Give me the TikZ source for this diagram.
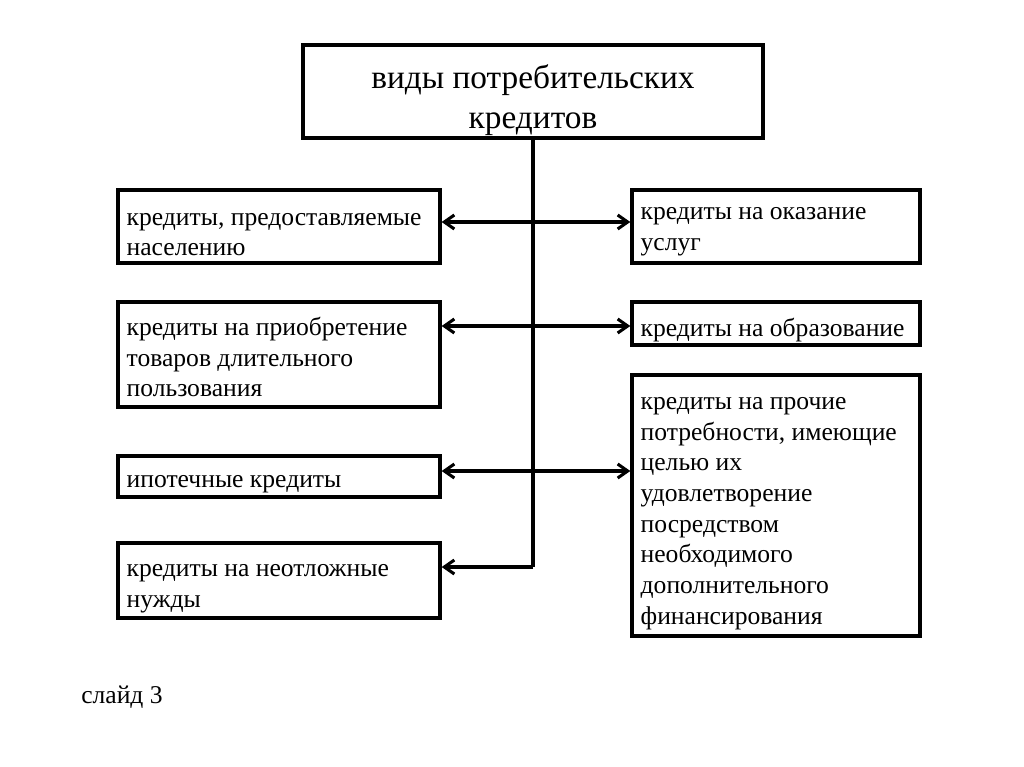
\documentclass[tikz,border=0pt]{standalone}
\usepackage{fontspec}
\setmainfont{Liberation Serif}
\usetikzlibrary{arrows.meta}
\newcommand\boxtext[3][-6pt]{\raisebox{#1}[\height][\depth]{\parbox{#2}{\raggedright #3}}}
\begin{document}
\begin{tikzpicture}[x=0.75pt,y=-0.75pt,
  box/.style={draw,line width=2.5pt,inner xsep=6.5pt,inner ysep=0pt,
    font=\fontsize{19.2}{23}\selectfont},
  lbox/.style={box,minimum width=241.5pt},
  rbox/.style={box,minimum width=216pt},
  conn/.style={line width=2.3pt},
  barb/.tip={Straight Barb[length=7.5pt,width=10.5pt,line width=2.3pt]},
  tip/.style={-barb},
  both/.style={barb-barb}]
\useasboundingbox (0,0) rectangle (1024,767);
\fill[white] (0,0) rectangle (1024,767);
\node[draw,line width=2.5pt,minimum width=345pt,minimum height=69.75pt] (T) at (533,91.5) {};
\node[align=center,inner sep=0pt,font=\fontsize{25}{30}\selectfont] (Tt) at (533,100) {виды потребительских\\кредитов};
\node[lbox,minimum height=54.75pt] (L1) at (279,226.5) {\boxtext{228.5pt}{кредиты, предоставляемые\\населению}};
\node[lbox,minimum height=78.75pt] (L2) at (279,354.5) {\boxtext[-2pt]{228.5pt}{кредиты на приобретение\\товаров длительного\\пользования}};
\node[lbox,minimum height=30.75pt] (L3) at (279,476.5) {\boxtext{228.5pt}{ипотечные кредиты}};
\node[lbox,minimum height=56.25pt] (L4) at (279,580.5) {\boxtext{228.5pt}{кредиты на неотложные\\нужды}};
\node[rbox,minimum height=54.75pt] (R1) at (776,226.5) {\boxtext[-4pt]{203pt}{кредиты на оказание\\услуг}};
\node[rbox,minimum height=32.25pt] (R2) at (776,323.5) {\boxtext[-5pt]{203pt}{кредиты на образование}};
\node[rbox,minimum height=195.75pt] (R3) at (776,505.5) {\boxtext{203pt}{кредиты на прочие\\потребности, имеющие\\целью их\\удовлетворение\\посредством\\необходимого\\дополнительного\\финансирования}};
\node[anchor=base west,font=\fontsize{19.2}{23}\selectfont,inner sep=0pt] (S) at (81,703) {слайд 3};
\coordinate (j1) at (533,222);
\coordinate (j2) at (533,326);
\coordinate (j3) at (533,471);
\coordinate (j4) at (533,567);
\draw[conn] (T.south) -- (j4);
\draw[conn,both] (L1.east |- j1) -- (R1.west |- j1);
\draw[conn,both] (L2.east |- j2) -- (R2.west |- j2);
\draw[conn,both] (L3.east |- j3) -- (R3.west |- j3);
\draw[conn,tip] (j4) -- (L4.east |- j4);
\end{tikzpicture}
\end{document}
